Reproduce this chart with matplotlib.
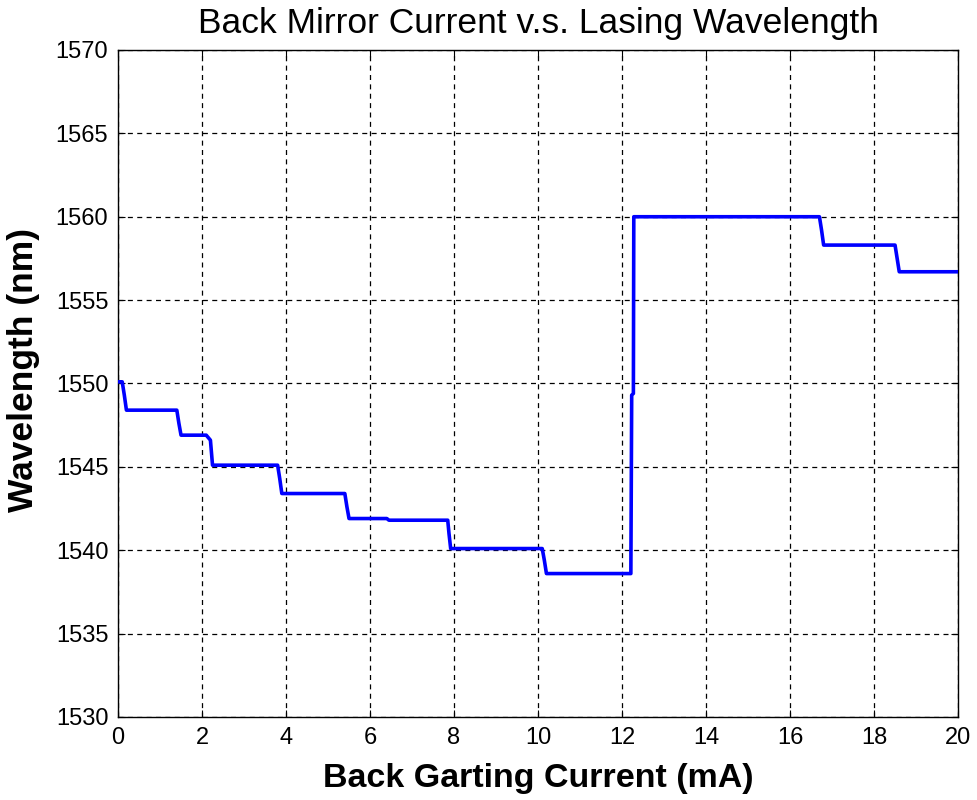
import matplotlib
matplotlib.use('Agg')
import matplotlib.pyplot as plt
import numpy as np

plt.rcParams['font.family'] = ['Liberation Sans', 'DejaVu Sans']

# back grating current (mA) and measured lasing wavelength (nm)
current = [0.0, 0.1, 0.15, 0.2, 1.4, 1.45, 1.5, 2.1, 2.2, 2.25, 3.8, 3.85, 3.9,
           5.4, 5.45, 5.5, 6.4, 6.45, 7.85, 7.88, 7.92, 10.1, 10.15, 10.2,
           12.21, 12.23, 12.27, 12.28, 16.7, 16.75, 16.8, 18.5, 18.55, 18.6, 20.0]
wavelength = [1550.1, 1550.1, 1549.3, 1548.4, 1548.4, 1547.6, 1546.9, 1546.9, 1546.6, 1545.1,
              1545.1, 1544.3, 1543.4, 1543.4, 1542.6, 1541.9, 1541.9, 1541.8, 1541.8, 1541.0,
              1540.1, 1540.1, 1539.4, 1538.6, 1538.6, 1549.3, 1549.4, 1560.0, 1560.0, 1559.2,
              1558.3, 1558.3, 1557.5, 1556.7, 1556.7]

xticks = np.arange(0, 21, 2)
yticks = np.arange(1530, 1571, 5)

fig = plt.figure(figsize=(9.77, 8), dpi=100)
ax = fig.add_axes([0.1208, 0.1038, 0.8598, 0.8337])

ax.plot(current, wavelength, color='#0000ff', linewidth=2.6, zorder=3)

ax.set_xlim(0, 20)
ax.set_ylim(1530, 1570)
ax.set_xticks(xticks)
ax.set_yticks(yticks)
ax.tick_params(direction='in', top=True, right=True, length=5, labelsize=17, pad=7)
ax.grid(True, color='black', linestyle=(0, (4, 3.5)), linewidth=0.9)
for s in ax.spines.values():
    s.set_linewidth(1.0)

ax.set_title('Back Mirror Current v.s. Lasing Wavelength', fontsize=25.5, pad=12)
ax.set_xlabel('Back Garting Current (mA)', fontsize=24.5, fontweight='bold', labelpad=10)
ax.set_ylabel('Wavelength (nm)', fontsize=25.5, fontweight='bold')
ax.yaxis.set_label_coords(-0.093, 0.52)

fig.savefig('out.png', dpi=100)
